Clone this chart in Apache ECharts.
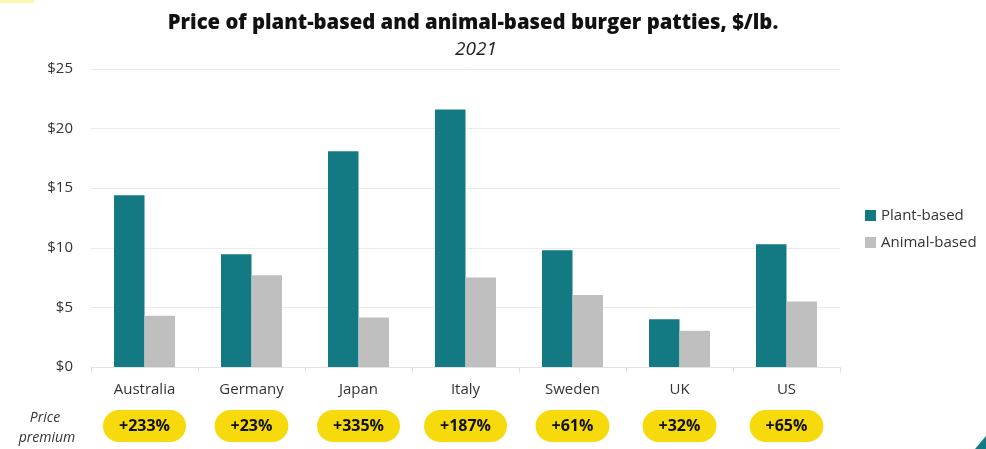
<!DOCTYPE html>
<html>
<head>
<meta charset="utf-8">
<script src="https://cdn.jsdelivr.net/npm/echarts@6/dist/echarts.min.js"></script>
<style>
  html, body { margin: 0; padding: 0; background: #fff; }
  #chart { width: 986px; height: 449px; }
</style>
</head>
<body>
<div id="chart"></div>
<script>
// data
const countries = ['Australia', 'Germany', 'Japan', 'Italy', 'Sweden', 'UK', 'US']
const plantBased = [14.4, 9.45, 18.1, 21.6, 9.8, 4.0, 10.3]
const animalBased = [4.3, 7.7, 4.15, 7.5, 6.05, 3.05, 5.5]
const premiums = ['+233%', '+23%', '+335%', '+187%', '+61%', '+32%', '+65%']
const yTicks = [0, 5, 10, 15, 20, 25]

const font = '"Open Sans", Roboto, sans-serif'
const teal = '#137a84'
const grey = '#bfbfbf'

let mychart = echarts.init(document.getElementById('chart'))
let option = {
  animation: false,
  textStyle: { fontFamily: font },
  title: [
    {
      text: 'Price of plant-based and animal-based burger patties, $/lb.',
      left: 468,
      top: 8,
      textAlign: 'center',
      textStyle: { fontSize: 20.3, fontWeight: 800, color: '#111', fontFamily: font }
    },
    {
      text: '2021',
      left: 471,
      top: 35,
      textAlign: 'center',
      textStyle: { fontSize: 19, fontStyle: 'italic', fontWeight: 'normal', color: '#222', fontFamily: font }
    }
  ],
  legend: {
    orient: 'vertical',
    left: 860,
    top: 203,
    itemWidth: 11,
    itemHeight: 11,
    itemGap: 12,
    icon: 'rect',
    textStyle: { fontSize: 15, color: '#333', fontFamily: font },
    data: ['Plant-based', 'Animal-based']
  },
  grid: { left: 91, right: 146, top: 69, bottom: 82 },
  xAxis: [
    {
      type: 'category',
      data: countries,
      axisLine: { lineStyle: { color: '#e3e3e3' } },
      axisTick: { show: true, length: 6, lineStyle: { color: '#e3e3e3' } },
      axisLabel: { fontSize: 15, color: '#333', margin: 15, fontFamily: font }
    },
    {
      type: 'category',
      position: 'bottom',
      data: premiums,
      axisLine: { show: false },
      axisTick: { show: false },
      axisLabel: {
        margin: 43,
        formatter: v => '{p|' + v + '}',
        rich: {
          p: {
            backgroundColor: '#f6da0b',
            borderRadius: 16,
            padding: [8, 16, 8, 16],
            fontSize: 16,
            fontWeight: 'bold',
            color: '#111',
            fontFamily: font
          }
        }
      }
    }
  ],
  yAxis: {
    type: 'value',
    min: yTicks[0],
    max: yTicks[yTicks.length - 1],
    interval: 5,
    axisLine: { show: false },
    axisTick: { show: false },
    splitLine: { lineStyle: { color: '#ebebeb' } },
    axisLabel: { fontSize: 15, color: '#333', margin: 18, formatter: '${value}', fontFamily: font }
  },
  series: [
    {
      name: 'Plant-based',
      type: 'bar',
      data: plantBased,
      itemStyle: { color: teal },
      barWidth: 30.5,
      barGap: '0%'
    },
    {
      name: 'Animal-based',
      type: 'bar',
      data: animalBased,
      itemStyle: { color: grey },
      barWidth: 30.5,
      barGap: '0%'
    }
  ],
  graphic: [
    {
      type: 'text',
      style: {
        x: 45, y: 418, text: 'Price', textAlign: 'center', textVerticalAlign: 'middle',
        fontSize: 14, fontStyle: 'italic', fill: '#333', fontFamily: font
      }
    },
    {
      type: 'text',
      style: {
        x: 47, y: 438, text: 'premium', textAlign: 'center', textVerticalAlign: 'middle',
        fontSize: 14, fontStyle: 'italic', fill: '#333', fontFamily: font
      }
    },
    // cropping artefacts in the corners of the reference
    { type: 'rect', shape: { x: 0, y: 0, width: 34, height: 3 }, style: { fill: '#fff6b0' } },
    { type: 'polygon', shape: { points: [[975, 449], [986, 436], [986, 449]] }, style: { fill: teal } }
  ]
}
mychart.setOption(option)
window.addEventListener('resize', function () {
  mychart.resize()
})
</script>
</body>
</html>
